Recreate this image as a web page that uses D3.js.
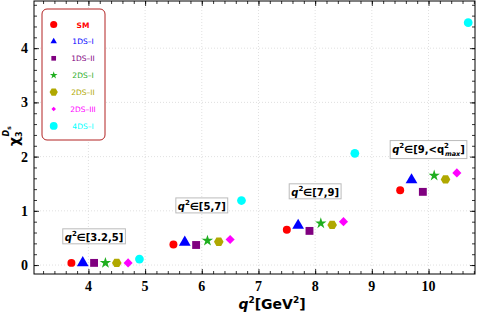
<!DOCTYPE html>
<html>
<head>
<meta charset="utf-8">
<script src="https://cdn.jsdelivr.net/npm/d3@7"></script>
<style>
  body { margin: 0; background: #fff; }
  svg { display: block; }
</style>
</head>
<body>
<svg id="chart" width="478" height="317"></svg>
<script>
// data
var models = ['SM', '1DS\u2013I', '1DS\u2013II', '2DS\u2013I', '2DS\u2013II', '2DS\u2013III', '4DS\u2013I'];
var colors = ['#ff0000', '#0000ff', '#800080', '#1fae1f', '#b0a800', '#ff00ff', '#00ffff'];
var shapes = ['circle', 'triangle', 'square', 'star', 'hexagon', 'diamond', 'circle'];

// x position of each model inside a bin
var binX = [
  [3.7, 3.9, 4.1, 4.3, 4.5, 4.7, 4.9],
  [5.5, 5.7, 5.9, 6.1, 6.3, 6.5, 6.7],
  [7.5, 7.7, 7.9, 8.1, 8.3, 8.5, 8.7],
  [9.5, 9.7, 9.9, 10.1, 10.3, 10.5, 10.7]
];
var binY = [
  [0.04, 0.04, 0.04, 0.04, 0.04, 0.04, 0.11],
  [0.38, 0.42, 0.37, 0.45, 0.43, 0.47, 1.19],
  [0.65, 0.73, 0.63, 0.77, 0.74, 0.80, 2.06],
  [1.38, 1.57, 1.35, 1.65, 1.58, 1.70, 4.47]
];
var binLabels = ['[3.2,5]', '[5,7]', '[7,9]', '[9,<q'];
// centre of each label box
var binLabelPos = [[4.1, 0.53], [6.0, 1.1], [8.0, 1.36], [10.0, 2.13]];

var xTicks = [4, 5, 6, 7, 8, 9, 10];
var yTicks = [0, 1, 2, 3, 4];

var svg = d3.select('#chart');
var L = 34, R = 475, T = 1, B = 274;

var x = d3.scaleLinear().domain([3.04, 10.82]).range([L, R]);
var y = d3.scaleLinear().domain([-0.165, 4.87]).range([B, T]);

// grid
var grid = svg.append('g').attr('stroke', '#d8d8d8').attr('stroke-dasharray', '1,2').attr('stroke-width', 0.8);
grid.selectAll('.gx').data(xTicks).enter().append('line')
  .attr('x1', function(d) { return x(d); }).attr('x2', function(d) { return x(d); })
  .attr('y1', T).attr('y2', B);
grid.selectAll('.gy').data(yTicks).enter().append('line')
  .attr('y1', function(d) { return y(d); }).attr('y2', function(d) { return y(d); })
  .attr('x1', L).attr('x2', R);

// axes with inward ticks, minor every 0.2
var minorX = d3.range(3.2, 10.81, 0.2);
var minorY = d3.range(0, 4.81, 0.2);

function tickGroup(axis, scale, major, minor, pos, side) {
  var g = svg.append('g').attr('transform', pos);
  g.call(axis(scale).tickValues(minor).tickSize(side * 3).tickFormat(''));
  var g2 = svg.append('g').attr('transform', pos);
  g2.call(axis(scale).tickValues(major).tickSize(side * 5).tickFormat(''));
  [g, g2].forEach(function(s) {
    s.select('.domain').remove();
    s.selectAll('line').attr('stroke', '#000').attr('stroke-width', 0.8);
  });
}
tickGroup(d3.axisBottom, x, xTicks, minorX, 'translate(0,' + B + ')', -1);
tickGroup(d3.axisTop, x, xTicks, minorX, 'translate(0,' + T + ')', -1);
tickGroup(d3.axisLeft, y, yTicks, minorY, 'translate(' + L + ',0)', -1);
tickGroup(d3.axisRight, y, yTicks, minorY, 'translate(' + R + ',0)', -1);

svg.append('rect').attr('x', L).attr('y', T).attr('width', R - L).attr('height', B - T)
  .attr('fill', 'none').attr('stroke', '#000').attr('stroke-width', 1);

// tick labels
var tickFont = 'Liberation Serif, Times New Roman, serif';
svg.selectAll('.xl').data(xTicks).enter().append('text')
  .attr('x', function(d) { return x(d); }).attr('y', B + 17)
  .attr('text-anchor', 'middle').attr('font-family', tickFont).attr('font-weight', 'bold')
  .attr('font-size', 14).text(function(d) { return d; });
svg.selectAll('.yl').data(yTicks).enter().append('text')
  .attr('x', L - 6).attr('y', function(d) { return y(d) + 5; })
  .attr('text-anchor', 'end').attr('font-family', tickFont).attr('font-weight', 'bold')
  .attr('font-size', 14).text(function(d) { return d; });

// axis titles
var xt = svg.append('text').attr('x', 272).attr('y', 309).attr('text-anchor', 'middle')
  .attr('font-family', 'DejaVu Sans, sans-serif').attr('font-weight', 'bold').attr('font-size', 14);
xt.append('tspan').attr('font-style', 'italic').text('q');
xt.append('tspan').attr('font-size', 9).attr('dy', -6).text('2');
xt.append('tspan').attr('dy', 6).text('[GeV');
xt.append('tspan').attr('font-size', 9).attr('dy', -6).text('2');
xt.append('tspan').attr('dy', 6).text(']');

var yt = svg.append('text').attr('transform', 'translate(19,146) rotate(-90)')
  .attr('text-anchor', 'start').attr('font-family', 'DejaVu Sans, sans-serif')
  .attr('font-weight', 'bold').attr('font-size', 14);
yt.append('tspan').text('\u03c7');
yt.append('tspan').attr('font-size', 8).attr('dy', 3).text('3');
yt.append('tspan').attr('font-size', 8).attr('dy', -13).attr('dx', -5).attr('font-style', 'italic').text('D');
yt.append('tspan').attr('font-size', 6).attr('dy', 2).text('s');

// symbols
function symbolFor(shape, size) {
  if (shape === 'hexagon') {
    var r = Math.sqrt(size / 2.6);
    var pts = d3.range(6).map(function(i) {
      var a = Math.PI / 3 * i;
      return [r * Math.cos(a), r * Math.sin(a)];
    });
    return 'M' + pts.join('L') + 'Z';
  }
  if (shape === 'diamond') {
    var s = Math.sqrt(size) * 0.72;
    return 'M0,' + (-s) + 'L' + s + ',0L0,' + s + 'L' + (-s) + ',0Z';
  }
  var map = { circle: d3.symbolCircle, triangle: d3.symbolTriangle, square: d3.symbolSquare, star: d3.symbolStar };
  return d3.symbol().type(map[shape]).size(size)();
}
var plotSizes = [50, 60, 62, 40, 60, 40, 60];

var pts = [];
binX.forEach(function(row, b) {
  row.forEach(function(xv, i) {
    pts.push({ x: xv, y: binY[b][i], m: i });
  });
});
svg.append('g').selectAll('path').data(pts).enter().append('path')
  .attr('transform', function(d) { return 'translate(' + x(d.x) + ',' + y(d.y) + ')'; })
  .attr('d', function(d) { return symbolFor(shapes[d.m], plotSizes[d.m]); })
  .attr('fill', function(d) { return colors[d.m]; });

// bin labels
binLabels.forEach(function(lab, i) {
  var g = svg.append('g');
  var t = g.append('text').attr('x', 0).attr('y', 0)
    .attr('font-family', 'DejaVu Sans, sans-serif').attr('font-weight', 'bold').attr('font-size', 10);
  t.append('tspan').attr('font-style', 'italic').text('q');
  t.append('tspan').attr('font-size', 7).attr('dy', -5).text('2');
  t.append('tspan').attr('dy', 5).text('\u2208' + lab);
  if (i === 3) {
    t.append('tspan').attr('font-size', 7).attr('dy', -5).text('2');
    t.append('tspan').attr('font-size', 6.5).attr('font-style', 'italic').attr('dy', 8).attr('dx', -4).text('max');
    t.append('tspan').attr('dy', -3).text(']');
  }
  var bb = t.node().getBBox();
  g.insert('rect', 'text').attr('x', bb.x - 2).attr('y', bb.y - 1)
    .attr('width', bb.width + 4).attr('height', bb.height + 2)
    .attr('fill', '#fff').attr('stroke', '#bbb').attr('stroke-width', 1);
  var cx = bb.x + bb.width / 2, cy = bb.y + bb.height / 2;
  g.attr('transform', 'translate(' + (x(binLabelPos[i][0]) - cx) + ',' + (y(binLabelPos[i][1]) - cy) + ')');
});

// legend
var lg = svg.append('g');
lg.append('rect').attr('x', 42).attr('y', 9).attr('width', 63).attr('height', 131).attr('rx', 5)
  .attr('fill', '#fff').attr('stroke', '#b22222').attr('stroke-width', 1);
var legSizes = [40, 18, 22, 18, 44, 10, 48];
models.forEach(function(m, i) {
  var yy = 24.5 + i * 16.9;
  lg.append('path').attr('transform', 'translate(53.7,' + yy + ')')
    .attr('d', symbolFor(shapes[i], legSizes[i])).attr('fill', colors[i]);
  lg.append('text').attr('x', 83).attr('y', yy + 3).attr('text-anchor', 'middle')
    .attr('font-family', 'DejaVu Sans, sans-serif').attr('font-size', 7.5)
    .attr('font-weight', i === 0 ? 'bold' : 'normal')
    .attr('fill', colors[i]).text(m);
});
</script>
</body>
</html>
